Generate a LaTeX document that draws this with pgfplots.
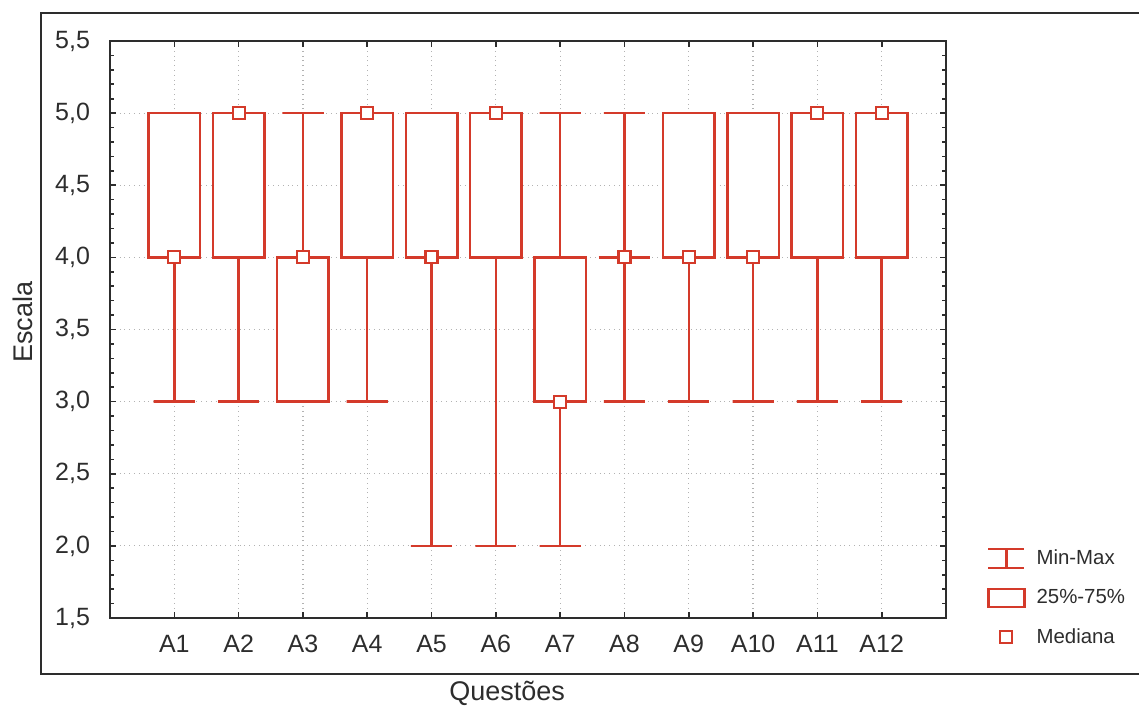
\documentclass[border=0pt]{standalone}
\usepackage{pgfplots}
\pgfplotsset{compat=1.18}
\usepackage{fontspec}
\setmainfont{Liberation Sans}
\definecolor{boxred}{RGB}{212,58,42}
\definecolor{txt}{RGB}{45,45,45}

\pgfplotsset{
  bx/.style={boxred, line width=1.25pt, solid, mark=none, forget plot, fill=white},
  wk/.style={boxred, line width=1.25pt, solid, mark=none, forget plot},
}

\begin{document}
\begin{tikzpicture}
\path[use as bounding box] (0,0) rectangle (569.5pt,354.5pt);
\draw[line width=1pt, txt] (600pt,348pt) -- (20.5pt,348pt) -- (20.5pt,17.5pt) -- (600pt,17.5pt);
\begin{axis}[
  at={(55pt,45.5pt)}, anchor=south west,
  scale only axis, width=418pt, height=288.5pt,
  xmin=0, xmax=13, ymin=1.5, ymax=5.5,
  xtick={1,2,3,4,5,6,7,8,9,10,11,12},
  xticklabels={A1,A2,A3,A4,A5,A6,A7,A8,A9,A10,A11,A12},
  ytick={1.5,2.0,2.5,3.0,3.5,4.0,4.5,5.0,5.5},
  minor y tick num=4,
  grid=major,
  major grid style={gray!60, dotted, line width=0.6pt},
  axis line style={txt, line width=1.1pt},
  major tick length=3pt, minor tick length=2pt,
  tick style={txt, line width=0.8pt},
  tick label style={font=\fontsize{12.5}{14}\selectfont, text=txt},
  /pgf/number format/assume math mode=true,
  yticklabel style={xshift=-6.5pt, /pgf/number format/use comma, /pgf/number format/fixed,
    /pgf/number format/fixed zerofill, /pgf/number format/precision=1},
  xticklabel style={yshift=-5pt},
  xlabel={Questões},
  xlabel style={at={(axis description cs:0.475,-0.143)}, anchor=base,
    font=\fontsize{13.5}{16}\selectfont, text=txt},
  ylabel={Escala},
  ylabel style={at={(axis description cs:-0.1047,0.513)}, anchor=center,
    font=\fontsize{13.5}{16}\selectfont, text=txt},
  legend style={at={(axis description cs:1.049,0.035)}, anchor=west,
    draw=none, fill=none, inner sep=0pt,
    font=\fontsize{10.2}{12}\selectfont, text=txt, row sep=7pt,
    /tikz/every odd column/.style={column sep=3.5pt}},
  legend cell align=left,
]
\addlegendimage{legend image code/.code={\draw[boxred,line width=1.1pt] (0pt,4.75pt)--(18pt,4.75pt) (9pt,4.75pt)--(9pt,-4.75pt) (0pt,-4.75pt)--(18pt,-4.75pt);}}
\addlegendentry{Min-Max}
\addlegendimage{legend image code/.code={\draw[boxred,line width=1.1pt] (0pt,-4.5pt) rectangle (18pt,4.5pt);}}
\addlegendentry{25\%-75\%}
\addlegendimage{legend image code/.code={\draw[boxred,line width=1pt,fill=white] (6pt,-3pt) rectangle (12pt,3pt);}}
\addlegendentry{Mediana}

% Data (min, q1, median, q3, max):
% A1 3 4 4 5 5 | A2 3 4 5 5 5 | A3 3 3 4 4 5 | A4 3 4 5 5 5
% A5 2 4 4 5 5 | A6 2 4 5 5 5 | A7 2 3 3 4 5 | A8 3 4 4 4 5
% A9 3 4 4 5 5 | A10 3 4 4 5 5 | A11 3 4 5 5 5 | A12 3 4 5 5 5

% boxes (25%-75%)
\addplot[bx] coordinates {(0.6,4) (1.4,4) (1.4,5) (0.6,5)} -- cycle;
\addplot[bx] coordinates {(1.6,4) (2.4,4) (2.4,5) (1.6,5)} -- cycle;
\addplot[bx] coordinates {(2.6,3) (3.4,3) (3.4,4) (2.6,4)} -- cycle;
\addplot[bx] coordinates {(3.6,4) (4.4,4) (4.4,5) (3.6,5)} -- cycle;
\addplot[bx] coordinates {(4.6,4) (5.4,4) (5.4,5) (4.6,5)} -- cycle;
\addplot[bx] coordinates {(5.6,4) (6.4,4) (6.4,5) (5.6,5)} -- cycle;
\addplot[bx] coordinates {(6.6,3) (7.4,3) (7.4,4) (6.6,4)} -- cycle;
\addplot[wk] coordinates {(7.6,4) (8.4,4)};
\addplot[bx] coordinates {(8.6,4) (9.4,4) (9.4,5) (8.6,5)} -- cycle;
\addplot[bx] coordinates {(9.6,4) (10.4,4) (10.4,5) (9.6,5)} -- cycle;
\addplot[bx] coordinates {(10.6,4) (11.4,4) (11.4,5) (10.6,5)} -- cycle;
\addplot[bx] coordinates {(11.6,4) (12.4,4) (12.4,5) (11.6,5)} -- cycle;

% lower whiskers (q1 -> min) with caps
\addplot[wk] coordinates {(1,4) (1,3) (0.68,3) (1.32,3)};
\addplot[wk] coordinates {(2,4) (2,3) (1.68,3) (2.32,3)};
\addplot[wk] coordinates {(2.68,3) (3.32,3)};
\addplot[wk] coordinates {(4,4) (4,3) (3.68,3) (4.32,3)};
\addplot[wk] coordinates {(5,4) (5,2) (4.68,2) (5.32,2)};
\addplot[wk] coordinates {(6,4) (6,2) (5.68,2) (6.32,2)};
\addplot[wk] coordinates {(7,3) (7,2) (6.68,2) (7.32,2)};
\addplot[wk] coordinates {(8,4) (8,3) (7.68,3) (8.32,3)};
\addplot[wk] coordinates {(9,4) (9,3) (8.68,3) (9.32,3)};
\addplot[wk] coordinates {(10,4) (10,3) (9.68,3) (10.32,3)};
\addplot[wk] coordinates {(11,4) (11,3) (10.68,3) (11.32,3)};
\addplot[wk] coordinates {(12,4) (12,3) (11.68,3) (12.32,3)};

% upper whiskers (q3 -> max) with caps, where q3 < max
\addplot[wk] coordinates {(3,4) (3,5) (2.68,5) (3.32,5)};
\addplot[wk] coordinates {(7,4) (7,5) (6.68,5) (7.32,5)};
\addplot[wk] coordinates {(8,4) (8,5) (7.68,5) (8.32,5)};

% medians
\addplot[only marks, forget plot, mark=square*, mark size=3pt,
  mark options={fill=white, draw=boxred, line width=1.1pt, solid}]
  coordinates {(1,4) (2,5) (3,4) (4,5) (5,4) (6,5) (7,3) (8,4) (9,4) (10,4) (11,5) (12,5)};
\end{axis}
\end{tikzpicture}
\end{document}
